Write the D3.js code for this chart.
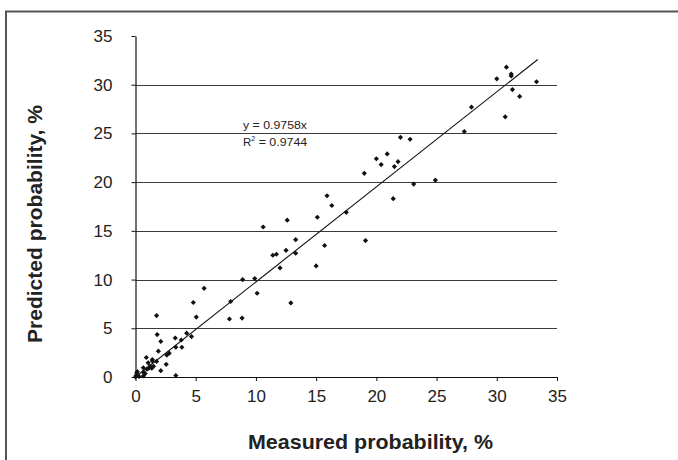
<!DOCTYPE html>
<html lang="en">
<head>
    <meta charset="UTF-8">
    <title>Measured vs predicted probability</title>
    <script src="https://d3js.org/d3.v7.min.js"></script>
    <style>
        body {
            margin: 0;
            padding: 0;
            background: #fff;
        }
        svg {
            display: block;
            font-family: "Liberation Sans", Arial, sans-serif;
        }
        .tick-label {
            font-size: 17px;
            fill: #222;
        }
        .axis-title {
            font-size: 21px;
            font-weight: bold;
            fill: #222;
        }
        .eq {
            font-size: 11.5px;
            fill: #222;
        }
    </style>
</head>
<body>
    <svg width="678" height="460"></svg>

    <script>
        // Datos
        const measured = [
            30.8, 30.0, 31.2, 31.2, 33.3, 31.3, 31.9, 27.9, 30.7, 27.3,
            22.0, 22.8, 20.0, 20.9, 20.4, 21.8, 21.5, 19.0, 23.1, 24.9,
            21.4, 15.9, 16.3, 17.5, 15.1, 12.6, 10.6, 13.3, 19.1, 15.7,
            12.5, 11.4, 11.7, 13.3, 12.0, 15.0, 9.9, 8.9, 10.1, 5.7,
            4.8, 7.9, 12.9, 5.05, 7.8, 8.85, 1.75, 1.8, 4.25, 4.65,
            3.3, 3.8, 2.1, 3.35, 3.85, 1.9, 2.8, 2.6, 0.9, 1.4,
            1.05, 1.4, 1.75, 2.55, 1.2, 1.5, 1.35, 0.65, 0.95, 2.1,
            3.35, 0.65, 0.8, 0.65, 0.1, 0.05, 0.15, 0.0, 0.3, 1.1
        ];
        const predicted = [
            31.8, 30.6, 31.1, 30.9, 30.3, 29.5, 28.8, 27.7, 26.7, 25.2,
            24.6, 24.4, 22.4, 22.9, 21.8, 22.1, 21.6, 20.9, 19.8, 20.2,
            18.3, 18.6, 17.6, 16.9, 16.4, 16.1, 15.4, 14.1, 14.0, 13.5,
            13.0, 12.5, 12.6, 12.7, 11.2, 11.4, 10.1, 10.0, 8.6, 9.1,
            7.65, 7.75, 7.6, 6.15, 5.95, 6.05, 6.3, 4.35, 4.5, 4.15,
            4.0, 3.8, 3.65, 3.05, 3.05, 2.65, 2.45, 2.25, 2.0, 1.8,
            1.45, 1.65, 1.6, 1.3, 1.1, 1.1, 0.9, 0.95, 0.8, 0.65,
            0.15, 0.5, 0.35, 0.1, 0.4, 0.15, 0.55, 0.0, 0.05, 0.9
        ];

        const xTicks = [0, 5, 10, 15, 20, 25, 30, 35];
        const yTicks = [0, 5, 10, 15, 20, 25, 30, 35];
        const gridValues = [5, 10, 15, 20, 25, 30];

        const slope = 0.9758;
        const trendRange = [0, 33.4];
        const eqLine1 = "y = 0.9758x";
        const eqLine2Value = " = 0.9744";

        const xTitle = "Measured probability, %";
        const yTitle = "Predicted probability, %";

        const svg = d3.select("svg");

        // Marco
        svg.append("path")
            .attr("d", "M6,460 V11.5 H678")
            .attr("fill", "none")
            .attr("stroke", "#555")
            .attr("stroke-width", 2);

        const x = d3.scaleLinear().domain([0, 35]).range([135.5, 557]);
        const y = d3.scaleLinear().domain([0, 35]).range([377, 36]);

        // Líneas de cuadrícula
        svg.append("g")
            .selectAll("line")
            .data(gridValues)
            .join("line")
            .attr("x1", x(0))
            .attr("x2", x(35))
            .attr("y1", d => Math.round(y(d)) + 0.5)
            .attr("y2", d => Math.round(y(d)) + 0.5)
            .attr("stroke", "#3a3a3a")
            .attr("stroke-width", 1.2);

        // Eje X
        const xAxis = svg.append("g")
            .attr("transform", `translate(0,${y(0)})`)
            .call(d3.axisBottom(x).tickValues(xTicks).tickSize(4).tickSizeOuter(0).tickPadding(9));
        xAxis.select(".domain").attr("stroke", "#111").attr("stroke-width", 1.2);
        xAxis.selectAll(".tick line").attr("stroke", "#111");
        xAxis.selectAll(".tick text").attr("class", "tick-label").attr("font-family", null).attr("font-size", null);

        // Eje Y
        const yAxis = svg.append("g")
            .attr("transform", `translate(${x(0)},0)`)
            .call(d3.axisLeft(y).tickValues(yTicks).tickSize(4).tickSizeOuter(0).tickPadding(19));
        yAxis.select(".domain").attr("stroke", "#111").attr("stroke-width", 1.2);
        yAxis.selectAll(".tick line").attr("stroke", "#111");
        yAxis.selectAll(".tick text").attr("class", "tick-label").attr("font-family", null).attr("font-size", null);

        // Línea de tendencia
        svg.append("path")
            .datum(trendRange)
            .attr("fill", "none")
            .attr("stroke", "#111")
            .attr("stroke-width", 1.1)
            .attr("d", d3.line().x(d => x(d)).y(d => y(slope * d)));

        // Puntos
        const points = measured.map((m, i) => ({ m: m, p: predicted[i] }));
        svg.append("g")
            .selectAll("path")
            .data(points)
            .join("path")
            .attr("transform", d => `translate(${x(d.m)},${y(d.p)})`)
            .attr("d", d3.symbol(d3.symbolDiamond2).size(17))
            .attr("fill", "#111");

        // Ecuación
        svg.append("text")
            .attr("class", "eq")
            .attr("x", 243)
            .attr("y", 129)
            .attr("textLength", 64)
            .attr("lengthAdjust", "spacingAndGlyphs")
            .text(eqLine1);

        const r2 = svg.append("text")
            .attr("class", "eq")
            .attr("x", 243)
            .attr("y", 146);
        r2.append("tspan").text("R");
        r2.append("tspan").attr("dy", -5).attr("font-size", 7).text("2");
        r2.append("tspan").attr("dy", 5).attr("textLength", 52)
            .attr("lengthAdjust", "spacingAndGlyphs").text(eqLine2Value);

        // Títulos de ejes
        svg.append("text")
            .attr("class", "axis-title")
            .attr("x", 248)
            .attr("y", 449)
            .attr("textLength", 245)
            .attr("lengthAdjust", "spacingAndGlyphs")
            .text(xTitle);

        svg.append("text")
            .attr("class", "axis-title")
            .attr("transform", "translate(42,343) rotate(-90)")
            .attr("textLength", 238)
            .attr("lengthAdjust", "spacingAndGlyphs")
            .text(yTitle);
    </script>
</body>
</html>
